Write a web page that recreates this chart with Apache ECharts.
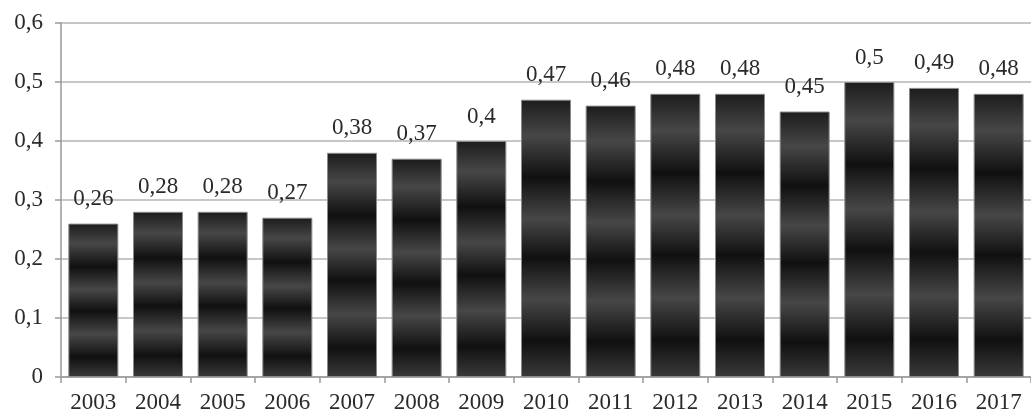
<!DOCTYPE html>
<html>
<head>
<meta charset="utf-8">
<script src="https://cdn.jsdelivr.net/npm/echarts@6/dist/echarts.min.js"></script>
<style>
html,body{margin:0;padding:0;background:#fff;}
#c{width:1031px;height:416px;}
</style>
</head>
<body>
<div id="c"></div>
<script>
const years = ['2003','2004','2005','2006','2007','2008','2009','2010','2011','2012','2013','2014','2015','2016','2017'];
const values = [0.26,0.28,0.28,0.27,0.38,0.37,0.4,0.47,0.46,0.48,0.48,0.45,0.5,0.49,0.48];
const yMin = 0, yMax = 0.6, yStep = 0.1;

const comma = v => String(+v.toFixed(2)).replace('.', ',');

const barFill = new echarts.graphic.LinearGradient(0, 0, 0, 1, [
  {offset: 0, color: '#1c1c1c'},
  {offset: 0.13, color: '#474747'},
  {offset: 0.28, color: '#101010'},
  {offset: 0.43, color: '#474747'},
  {offset: 0.57, color: '#101010'},
  {offset: 0.72, color: '#474747'},
  {offset: 0.87, color: '#101010'},
  {offset: 1, color: '#3a3a3a'}
]);

const chart = echarts.init(document.getElementById('c'), null, {renderer: 'canvas'});
chart.setOption({
  animation: false,
  backgroundColor: '#fff',
  grid: {left: 61, top: 23, bottom: 39, right: -7, containLabel: false},
  xAxis: {
    type: 'category',
    data: years,
    boundaryGap: true,
    axisLine: {lineStyle: {color: '#999', width: 1.5}},
    axisTick: {show: true, length: 6, alignWithLabel: false, lineStyle: {color: '#999', width: 1.5}},
    axisLabel: {color: '#2a2a2a', fontFamily: 'Liberation Serif', fontSize: 23, margin: 14}
  },
  yAxis: {
    type: 'value',
    min: yMin, max: yMax, interval: yStep,
    axisLine: {show: true, lineStyle: {color: '#999', width: 1.5}},
    axisTick: {show: true, length: 6, lineStyle: {color: '#999', width: 1.5}},
    splitLine: {show: true, lineStyle: {color: '#b5b5b5', width: 1.5}},
    axisLabel: {color: '#2a2a2a', fontFamily: 'Liberation Serif', fontSize: 23, margin: 18,
      formatter: v => comma(v)}
  },
  series: [{
    type: 'bar',
    data: values,
    barWidth: 50,
    itemStyle: {color: barFill, borderColor: '#8a8a8a', borderWidth: 1},
    label: {show: true, position: 'top', distance: 13, color: '#2a2a2a',
      fontFamily: 'Liberation Serif', fontSize: 23,
      formatter: p => comma(p.value)}
  }]
});
</script>
</body>
</html>
